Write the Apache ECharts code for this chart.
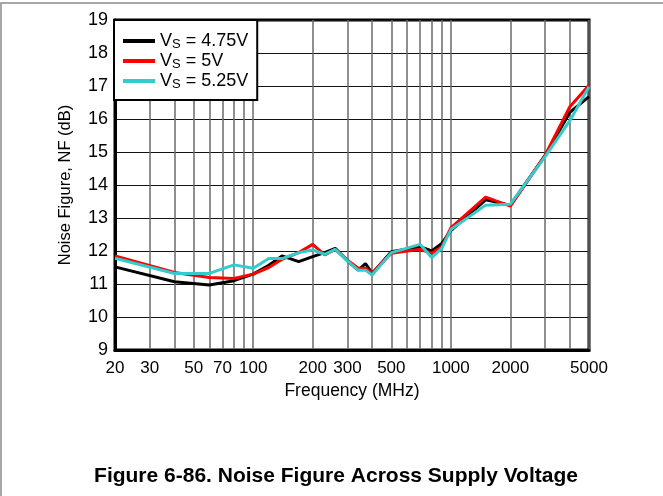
<!DOCTYPE html>
<html><head><meta charset="utf-8">
<script src="https://cdn.jsdelivr.net/npm/echarts@6/dist/echarts.min.js"></script>
<style>html,body{margin:0;padding:0;background:#fff}#c{width:663px;height:496px}</style>
</head><body><div id="c"></div>
<script>
const freqs = [20, 40, 60, 80, 100, 120, 140, 170, 200, 230, 260, 300, 340, 370, 400, 500, 700, 800, 900, 1000, 1500, 2000, 3000, 4000, 5000];
const nf475 = [11.52, 11.07, 10.97, 11.10, 11.30, 11.57, 11.85, 11.68, 11.83, 11.95, 12.08, 11.70, 11.42, 11.62, 11.32, 11.98, 12.13, 12.00, 12.23, 12.62, 13.55, 13.39, 14.90, 16.20, 16.68];
const nf500 = [11.85, 11.35, 11.20, 11.17, 11.30, 11.50, 11.75, 11.95, 12.20, 11.88, 12.05, 11.72, 11.48, 11.48, 11.33, 11.93, 12.05, 11.93, 12.13, 12.70, 13.63, 13.36, 14.90, 16.37, 17.02];
const nf525 = [11.78, 11.32, 11.32, 11.58, 11.48, 11.77, 11.77, 11.95, 12.03, 11.90, 12.05, 11.70, 11.42, 11.42, 11.27, 11.95, 12.20, 11.80, 12.08, 12.65, 13.39, 13.42, 14.86, 15.95, 16.98];
const legendValues = ['4.75V', '5V', '5.25V'];
const xTickLabels = [20, 30, 50, 70, 100, 200, 300, 500, 1000, 2000, 5000];
const xGridLines = [20, 30, 40, 50, 60, 70, 80, 90, 100, 200, 300, 400, 500, 600, 700, 800, 900, 1000, 2000, 3000, 4000, 5000];
const yMin = 9, yMax = 19, yStep = 1;

const FONT = '"Liberation Sans", Arial, sans-serif';
const colors = ['#000000', '#ff0000', '#33cccc'];
const names = legendValues.map(v => 'VS = ' + v);

function pairs(vals) { return freqs.map((f, i) => [f, vals[i]]); }
const allVals = [nf475, nf500, nf525];

const chart = echarts.init(document.getElementById('c'), null, {renderer: 'canvas'});
chart.setOption({
  animation: false,
  backgroundColor: '#fff',
  textStyle: {fontFamily: FONT},
  grid: {left: 115, right: 74, top: 20, bottom: 146, show: true, borderColor: '#000', borderWidth: 3, containLabel: false},
  title: {
    text: 'Figure 6-86. Noise Figure Across Supply Voltage',
    left: 331, textAlign: 'center', top: 461,
    textStyle: {fontFamily: FONT, fontSize: 21, fontWeight: 'bold', color: '#000'}
  },
  legend: {
    orient: 'vertical', left: 114, top: 20,
    padding: [12, 9, 9, 9], itemGap: 1, itemWidth: 32, itemHeight: 4,
    icon: 'rect',
    backgroundColor: '#fff', borderColor: '#000', borderWidth: 2,
    data: names,
    formatter: function (n) { const i = names.indexOf(n); return '{n|V}{s|S}{n| = ' + legendValues[i] + '}'; },
    textStyle: {
      fontFamily: FONT, fontSize: 18, color: '#000',
      rich: {
        n: {fontFamily: FONT, fontSize: 18, color: '#000'},
        s: {fontFamily: FONT, fontSize: 13, color: '#000', verticalAlign: 'bottom', padding: [7, 0, 0, 0]}
      }
    },
    z: 10
  },
  xAxis: {
    type: 'log', logBase: 10, min: 20, max: 5000,
    name: 'Frequency (MHz)', nameLocation: 'middle', nameGap: 26,
    nameTextStyle: {fontFamily: FONT, fontSize: 17.5, color: '#000'},
    axisLine: {show: true, lineStyle: {color: '#000', width: 3}},
    axisTick: {show: false, customValues: xGridLines},
    axisLabel: {customValues: xTickLabels, formatter: v => String(Math.round(v)), fontFamily: FONT, fontSize: 17, color: '#000', margin: 10},
    splitLine: {show: true, lineStyle: {color: '#6a6a6a', width: 1.5}},
    minorSplitLine: {show: false}
  },
  yAxis: {
    type: 'value', min: yMin, max: yMax, interval: yStep,
    name: 'Noise Figure, NF (dB)', nameLocation: 'middle', nameGap: 41, nameRotate: 90,
    nameTextStyle: {fontFamily: FONT, fontSize: 16.5, color: '#000'},
    axisLine: {show: true, lineStyle: {color: '#000', width: 3}},
    axisTick: {show: false},
    axisLabel: {fontFamily: FONT, fontSize: 18, color: '#000', margin: 7},
    splitLine: {show: true, lineStyle: {color: '#111', width: 1}}
  },
  graphic: [
    {type: 'rect', shape: {x: 1, y: 3, width: 700, height: 600}, style: {fill: 'none', stroke: '#8a8a8a', lineWidth: 1.5}, silent: true}
  ],
  series: allVals.map((v, i) => ({
    name: names[i], type: 'line', data: pairs(v),
    showSymbol: false, symbol: 'none',
    lineStyle: {color: colors[i], width: 3},
    itemStyle: {color: colors[i]},
    z: 3 + i
  }))
});
</script>
</body></html>
